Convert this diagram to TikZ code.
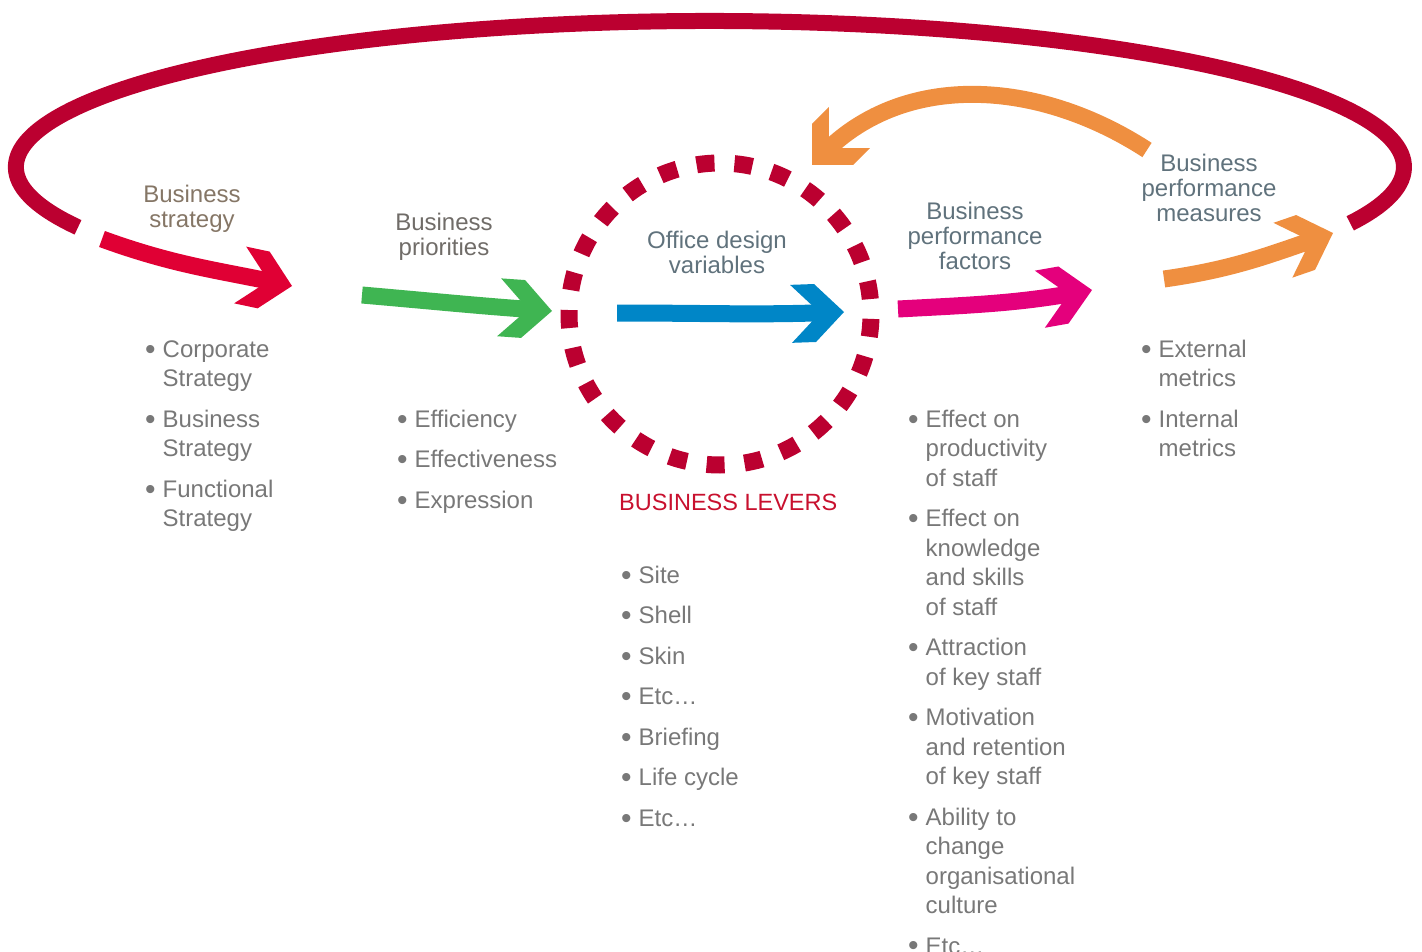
\documentclass[tikz,border=0pt]{standalone}
\usepackage{fontspec}
\setmainfont{Liberation Sans}

\definecolor{loopred}{RGB}{187,0,48}
\definecolor{stratred}{RGB}{224,0,52}
\definecolor{prioritygreen}{RGB}{63,181,82}
\definecolor{designblue}{RGB}{0,134,199}
\definecolor{factormagenta}{RGB}{228,0,124}
\definecolor{measureorange}{RGB}{239,143,64}
\definecolor{leverred}{RGB}{200,16,46}
\definecolor{taupe}{RGB}{133,118,102}
\definecolor{darktaupe}{RGB}{112,108,104}
\definecolor{slate}{RGB}{96,114,124}
\definecolor{bulletgrey}{RGB}{120,120,120}

\tikzset{
  head/.pic={\fill[#1] (0,0) -- (-29,29) -- (-53,29) -- (-24,0) -- (-53,-29) -- (-29,-29) -- cycle;},
  shaft/.style={line width=17pt, shorten >=18pt},
  heading/.style={align=center, inner sep=0pt, font=\fontsize{24}{25}\selectfont},
  bullets/.style={anchor=base west, inner sep=0pt, text=bulletgrey, font=\fontsize{24}{29.5}\selectfont}
}
\newcommand{\bitems}[1]{\begin{tabular}[t]{@{}l@{\hspace{7pt}}l@{}}#1\end{tabular}}
\newcommand{\bdot}{\raisebox{-2pt}{\fontsize{30}{30}\selectfont\textbullet}}

\begin{document}
\begin{tikzpicture}[x=1pt,y=1pt]
  \useasboundingbox (0,0) rectangle (1422,-952);

  % big loop and the ring of levers
  \coordinate (loop) at (710,-167);
  \draw[loopred, line width=16pt] ([shift={(204.4:694 and 146)}]loop)
    arc[start angle=204.4, end angle=-22.7, x radius=694, y radius=146];
  \coordinate (ring) at (720,-314);
  \draw[loopred, line width=17pt, dash pattern=on 18pt off 19.96pt, dash phase=23pt]
    (ring) circle[radius=151];

  \coordinate (strategy-s) at (102,-239);   \coordinate (strategy-t) at (292,-286);
  \coordinate (priorities-s) at (362,-295); \coordinate (priorities-t) at (552,-311);
  \coordinate (design-s) at (617,-313);     \coordinate (design-t) at (844,-312);
  \coordinate (factors-s) at (898,-309);    \coordinate (factors-t) at (1092,-290);
  \coordinate (measures-s) at (1164,-279);  \coordinate (measures-t) at (1333,-233);
  \coordinate (feedback-s) at (1147,-150);  \coordinate (feedback-t) at (812,-165);

  \foreach \n/\col/\dout/\din in {strategy/stratred/-20/168, priorities/prioritygreen/-5/176,
    design/designblue/0/182, factors/factormagenta/3/190, measures/measureorange/8/199,
    feedback/measureorange/147/45}{
    \draw[shaft, \col] (\n-s) to[out=\dout, in=\din] (\n-t);
    \pic[rotate=\din+180] at (\n-t) {head=\col};
  }

  \node[heading, text=taupe] (strategy) at (192,-209) {Business\\strategy};
  \node[heading, text=darktaupe] (priorities) at (444,-237) {Business\\priorities};
  \node[heading, text=slate] (design) at (717,-252) {Office design\\variables};
  \node[heading, text=slate] (factors) at (975,-236) {Business\\performance\\factors};
  \node[heading, text=slate] (measures) at (1209,-188) {Business\\performance\\measures};
  \node[heading, anchor=west, text=leverred, font=\fontsize{23.5}{25}\selectfont] (levers) at (619,-502) {BUSINESS LEVERS};

  \node[bullets] (strategy-list) at (145,-357) {\bitems{\bdot & Corporate\\ & Strategy\\[11pt]
    \bdot & Business\\ & Strategy\\[11pt] \bdot & Functional\\ & Strategy}};
  \node[bullets] (priorities-list) at (397,-427) {\bitems{\bdot & Efficiency\\[11pt]
    \bdot & Effectiveness\\[11pt] \bdot & Expression}};
  \node[bullets] (levers-list) at (621,-583) {\bitems{\bdot & Site\\[11pt] \bdot & Shell\\[11pt]
    \bdot & Skin\\[11pt] \bdot & Etc…\\[11pt] \bdot & Briefing\\[11pt]
    \bdot & Life cycle\\[11pt] \bdot & Etc…}};
  \node[bullets] (factors-list) at (908,-427) {\bitems{\bdot & Effect on\\ & productivity\\ & of staff\\[11pt]
    \bdot & Effect on\\ & knowledge\\ & and skills\\ & of staff\\[11pt]
    \bdot & Attraction\\ & of key staff\\[11pt]
    \bdot & Motivation\\ & and retention\\ & of key staff\\[11pt]
    \bdot & Ability to\\ & change\\ & organisational\\ & culture\\[11pt]
    \bdot & Etc…}};
  \node[bullets] (measures-list) at (1141,-357) {\bitems{\bdot & External\\ & metrics\\[11pt]
    \bdot & Internal\\ & metrics}};
\end{tikzpicture}
\end{document}
